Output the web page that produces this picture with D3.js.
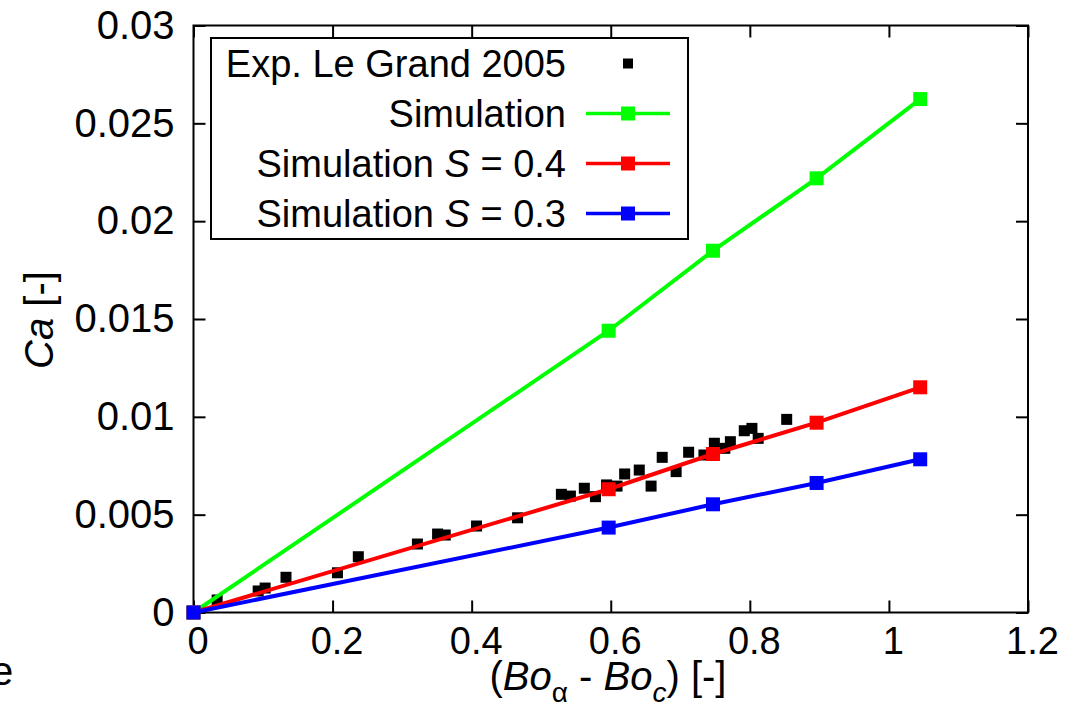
<!DOCTYPE html>
<html>
<head>
<meta charset="utf-8">
<script src="https://cdn.jsdelivr.net/npm/d3@7"></script>
<style>
  body { margin: 0; background: #fff; }
  svg { display: block; font-family: "Liberation Sans", Arial, sans-serif; }
</style>
</head>
<body>
<svg id="chart" width="1075" height="711"></svg>
<script>
// Exp. Le Grand 2005
const expX = [0.034, 0.093, 0.103, 0.133, 0.207, 0.237, 0.322, 0.351, 0.362, 0.407,
              0.466, 0.529, 0.542, 0.562, 0.578, 0.594, 0.609, 0.620, 0.641, 0.658,
              0.674, 0.694, 0.712, 0.734, 0.749, 0.764, 0.772, 0.792, 0.803, 0.812, 0.853];
const expY = [0.00064, 0.00110, 0.00125, 0.00180, 0.00203, 0.00285, 0.00350, 0.00401, 0.00396, 0.00442,
              0.00484, 0.00604, 0.00595, 0.00635, 0.00592, 0.00652, 0.00646, 0.00708, 0.00728, 0.00646,
              0.00793, 0.00720, 0.00819, 0.00805, 0.00865, 0.00839, 0.00873, 0.00929, 0.00941, 0.00890, 0.00987];

// simulations
const simX = [0, 0.597, 0.747, 0.896, 1.045];
const simY = [0, 0.01440, 0.01849, 0.02219, 0.02624];
const simY04 = [0, 0.00630, 0.00810, 0.00970, 0.01151];
const simY03 = [0, 0.00434, 0.00553, 0.00662, 0.00783];

const xTicks = [0, 0.2, 0.4, 0.6, 0.8, 1, 1.2];
const xTickLabels = ["0", "0.2", "0.4", "0.6", "0.8", "1", "1.2"];
const yTicks = [0, 0.005, 0.01, 0.015, 0.02, 0.025, 0.03];
const yTickLabels = ["0", "0.005", "0.01", "0.015", "0.02", "0.025", "0.03"];

const svg = d3.select("#chart");

const x = d3.scaleLinear().domain([0, 1.2]).range([193.5, 1028]);
const y = d3.scaleLinear().domain([0, 0.03]).range([612.5, 25.5]);

// axes, gnuplot style: ticks inside on all four sides
const gx = svg.append("g")
  .attr("transform", `translate(0,${y(0)})`)
  .call(d3.axisBottom(x).tickValues(xTicks).tickFormat((d, i) => xTickLabels[i])
    .tickSize(-12).tickPadding(15));
gx.attr("font-size", 38).attr("font-family", null);
gx.select(".domain").remove();
gx.selectAll("text").attr("dx", 4).attr("fill", "#000");

const gxt = svg.append("g")
  .attr("transform", `translate(0,${y(0.03)})`)
  .call(d3.axisTop(x).tickValues(xTicks).tickFormat("").tickSize(-12));
gxt.select(".domain").remove();

const gy = svg.append("g")
  .attr("transform", `translate(${x(0)},0)`)
  .call(d3.axisLeft(y).tickValues(yTicks).tickFormat((d, i) => yTickLabels[i])
    .tickSize(-12).tickPadding(19));
gy.attr("font-size", 40).attr("font-family", null);
gy.select(".domain").remove();
gy.selectAll("text").attr("fill", "#000");

const gyr = svg.append("g")
  .attr("transform", `translate(${x(1.2)},0)`)
  .call(d3.axisRight(y).tickValues(yTicks).tickFormat("").tickSize(-12));
gyr.select(".domain").remove();

svg.selectAll(".tick line").attr("stroke", "#000").attr("stroke-width", 2);

// frame
svg.append("rect")
  .attr("x", x(0)).attr("y", y(0.03))
  .attr("width", x(1.2) - x(0)).attr("height", y(0) - y(0.03))
  .attr("fill", "none").attr("stroke", "#000").attr("stroke-width", 2);

// experimental points
svg.append("g").selectAll("rect")
  .data(expX.map((d, i) => [d, expY[i]]))
  .join("rect")
  .attr("x", d => x(d[0]) - 5.5).attr("y", d => y(d[1]) - 5.5)
  .attr("width", 11).attr("height", 11)
  .attr("fill", "#000");

// simulation series
const series = [
  { vals: simY, color: "#00ff00" },
  { vals: simY04, color: "#ff0000" },
  { vals: simY03, color: "#0000ff" }
];
const line = d3.line().x(d => x(d[0])).y(d => y(d[1]));

series.forEach(s => {
  const pts = simX.map((d, i) => [d, s.vals[i]]);
  svg.append("path")
    .attr("d", line(pts))
    .attr("fill", "none").attr("stroke", s.color).attr("stroke-width", 4);
  svg.append("g").selectAll("rect")
    .data(pts)
    .join("rect")
    .attr("x", d => x(d[0]) - 7).attr("y", d => y(d[1]) - 7)
    .attr("width", 14).attr("height", 14)
    .attr("fill", s.color);
});

// legend
const leg = svg.append("g");
leg.append("rect")
  .attr("x", 211).attr("y", 38).attr("width", 477).attr("height", 201)
  .attr("fill", "#fff").attr("stroke", "#000").attr("stroke-width", 2);

const legRows = [
  { parts: [["Exp. Le Grand 2005", false]], color: "#000", isLine: false },
  { parts: [["Simulation", false]], color: "#00ff00", isLine: true },
  { parts: [["Simulation ", false], ["S", true], [" = 0.4", false]], color: "#ff0000", isLine: true },
  { parts: [["Simulation ", false], ["S", true], [" = 0.3", false]], color: "#0000ff", isLine: true }
];
legRows.forEach((r, i) => {
  const cy = 63.5 + i * 50;
  const t = leg.append("text")
    .attr("x", 566).attr("y", cy + 13.5)
    .attr("text-anchor", "end").attr("font-size", 38);
  r.parts.forEach(p => {
    t.append("tspan").text(p[0]).attr("font-style", p[1] ? "italic" : null);
  });
  if (r.isLine) {
    leg.append("line")
      .attr("x1", 586).attr("x2", 670).attr("y1", cy).attr("y2", cy)
      .attr("stroke", r.color).attr("stroke-width", 3.5);
    leg.append("rect")
      .attr("x", 628 - 7).attr("y", cy - 7).attr("width", 14).attr("height", 14)
      .attr("fill", r.color);
  } else {
    leg.append("rect")
      .attr("x", 628 - 5).attr("y", cy - 5).attr("width", 10).attr("height", 10)
      .attr("fill", r.color);
  }
});

// axis labels
const xl = svg.append("text")
  .attr("x", 608).attr("y", 690)
  .attr("text-anchor", "middle").attr("font-size", 40);
xl.append("tspan").text("(");
xl.append("tspan").text("Bo").attr("font-style", "italic");
xl.append("tspan").text("α").attr("font-size", 28).attr("dy", 12);
xl.append("tspan").text(" - ").attr("dy", -12);
xl.append("tspan").text("Bo").attr("font-style", "italic");
xl.append("tspan").text("c").attr("font-style", "italic").attr("font-size", 28).attr("dy", 12);
xl.append("tspan").text(") [-]").attr("dy", -12);

const yl = svg.append("text")
  .attr("transform", "translate(53,320) rotate(-90)")
  .attr("text-anchor", "middle").attr("font-size", 40);
yl.append("tspan").text("Ca").attr("font-style", "italic");
yl.append("tspan").text(" [-]");

// stray caption fragment at the left edge
svg.append("text").attr("x", -9).attr("y", 685).attr("font-size", 40).text("e");
</script>
</body>
</html>
